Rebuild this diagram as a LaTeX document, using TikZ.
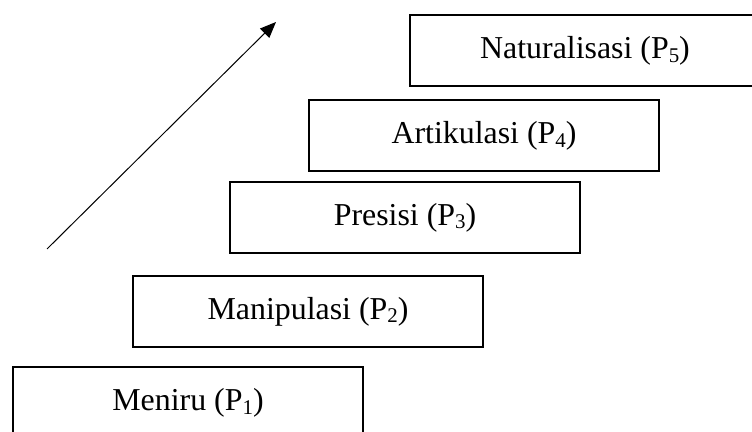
\documentclass[tikz,border=0pt]{standalone}
\usepackage{fontspec}
\setmainfont{Liberation Serif}
\usetikzlibrary{arrows.meta}
\newcommand{\lvlsub}[1]{\raisebox{-0.12em}{\fontsize{10.5}{12}\selectfont #1}}
\tikzset{level/.style={draw,line width=1bp,minimum width=175bp,minimum height=35.5bp,inner sep=0pt,font=\fontsize{16}{19}\selectfont}}
\begin{document}
\begin{tikzpicture}[x=0.5bp,y=-0.5bp]
\clip (0,0) rectangle (752,432);
\node[level] (meniru) at (188,403) {Meniru (P\lvlsub{1})};
\node[level] (manipulasi) at (308,311.5) {Manipulasi (P\lvlsub{2})};
\node[level] (presisi) at (405,217.5) {Presisi (P\lvlsub{3})};
\node[level] (artikulasi) at (484,136) {Artikulasi (P\lvlsub{4})};
\node[level] (naturalisasi) at (585,51) {Naturalisasi (P\lvlsub{5})};
\coordinate (start) at (47,249);
\coordinate (end) at (276,22);
\draw [-{Triangle[length=8bp,width=6.5bp]},line width=0.5bp] (start) -- (end);
\end{tikzpicture}
\end{document}
